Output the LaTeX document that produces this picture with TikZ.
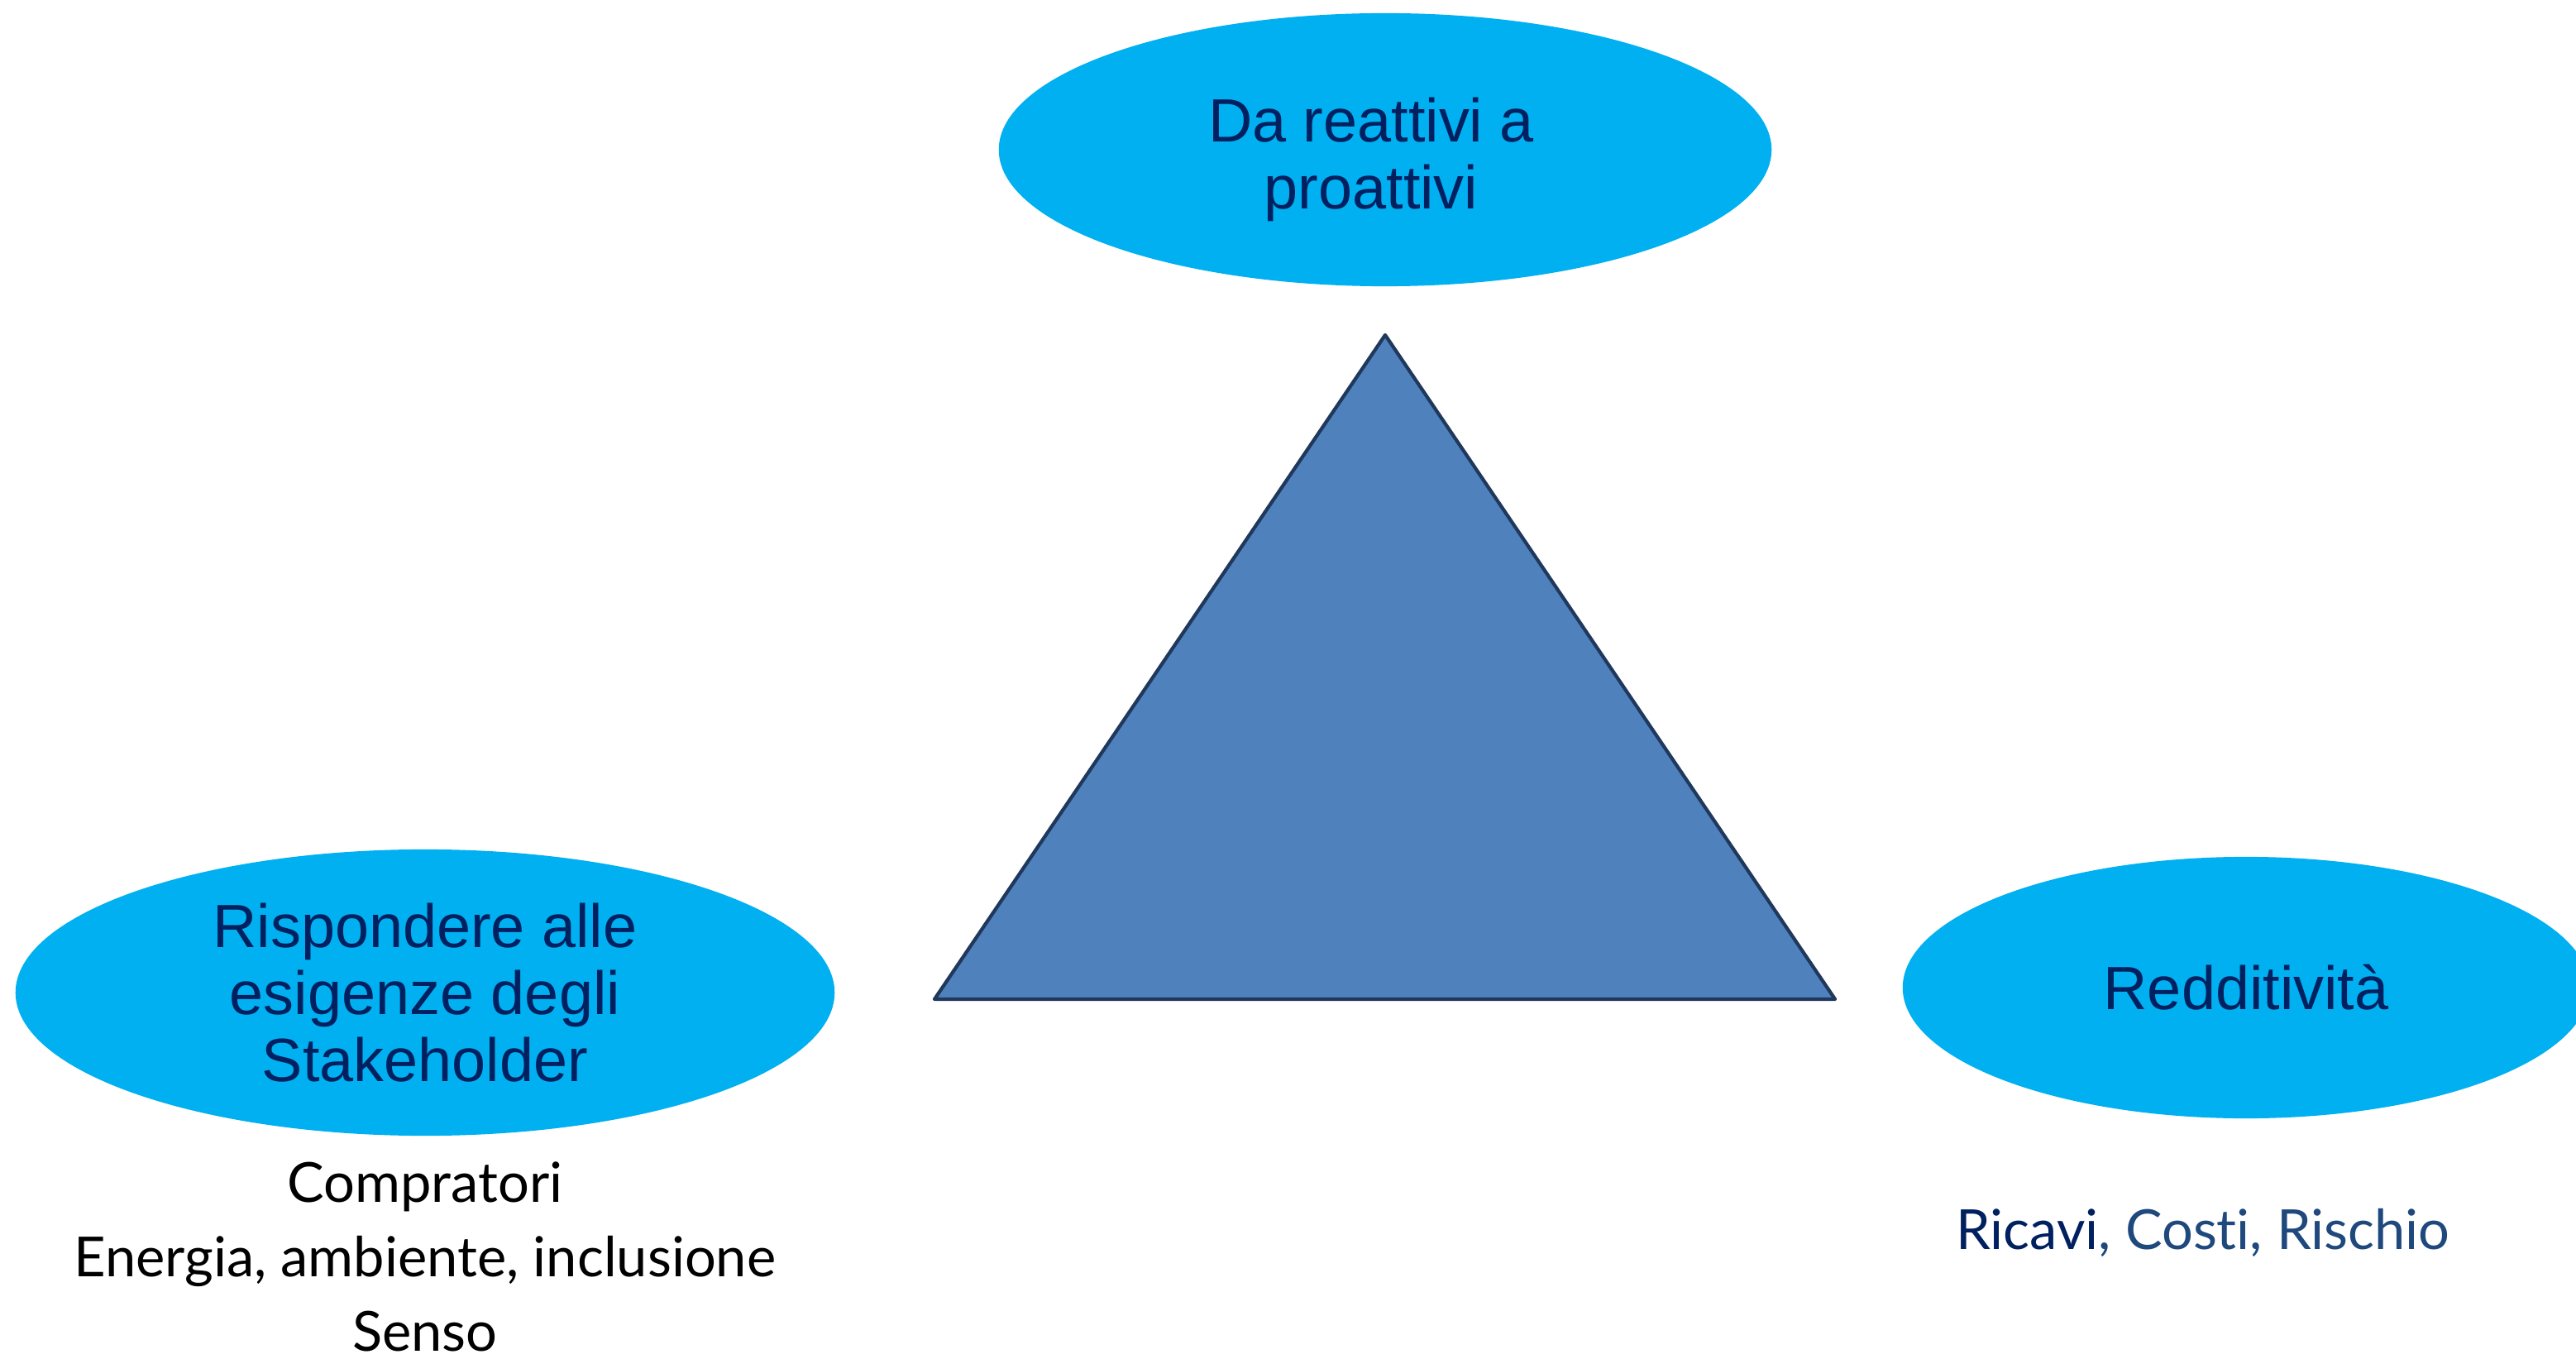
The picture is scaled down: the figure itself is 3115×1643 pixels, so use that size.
\documentclass[tikz,border=0pt]{standalone}
\usepackage{fontspec}
\setmainfont{Liberation Sans}
\newfontfamily\geofont[Ligatures=NoCommon]{Lato}
\usetikzlibrary{shapes.geometric}
\definecolor{ellfill}{RGB}{0,176,240}
\definecolor{navy}{RGB}{0,32,96}
\definecolor{trifill}{RGB}{79,129,189}
\definecolor{tridraw}{RGB}{31,56,92}
\definecolor{midblue}{RGB}{31,73,125}
\tikzset{
  bubble/.style={ellipse, fill=ellfill, draw=none, inner sep=0pt, align=center,
    text=navy, font=\fontsize{21}{23}\selectfont},
  bubbletext/.style={align=center, inner sep=0pt, text=navy, font=\fontsize{21}{23}\selectfont},
  note/.style={align=center, inner sep=0pt, font=\geofont\fontsize{19}{25.6}\selectfont}
}
\begin{document}
\begin{tikzpicture}[x=0.01cm, y=-0.01cm]
\useasboundingbox (0,0) rectangle (3115,1643);
\clip (0,0) rectangle (3115,1643);
% triangle
\coordinate (apex) at (1675,405);
\coordinate (bl) at (1130,1208);
\coordinate (br) at (2219,1208);
\draw[fill=trifill, draw=tridraw, line width=1.2pt, line join=round] (apex) -- (br) -- (bl) -- cycle;
% ellipses
\node[bubble, minimum width=9.34cm, minimum height=3.30cm,
  label={[bubbletext, name=toptext, xshift=-0.17cm, yshift=-0.12cm]center:Da reattivi a\\proattivi}] (top) at (1675,181) {};
\node[bubble, minimum width=9.90cm, minimum height=3.46cm] (left) at (514,1200)
  {Rispondere alle\\esigenze degli\\Stakeholder};
\node[bubble, minimum width=8.30cm, minimum height=3.16cm] (right) at (2716,1194)
  {Redditività};
% notes
\node[note, text=black] (leftnote) at (514,1519)
  {Compratori\\Energia, ambiente, inclusione\\Senso};
\node[note] (rightnote) at (2664,1490)
  {\textcolor{navy}{Ricavi}\textcolor{midblue}{, Costi, Rischio}};
\end{tikzpicture}
\end{document}
